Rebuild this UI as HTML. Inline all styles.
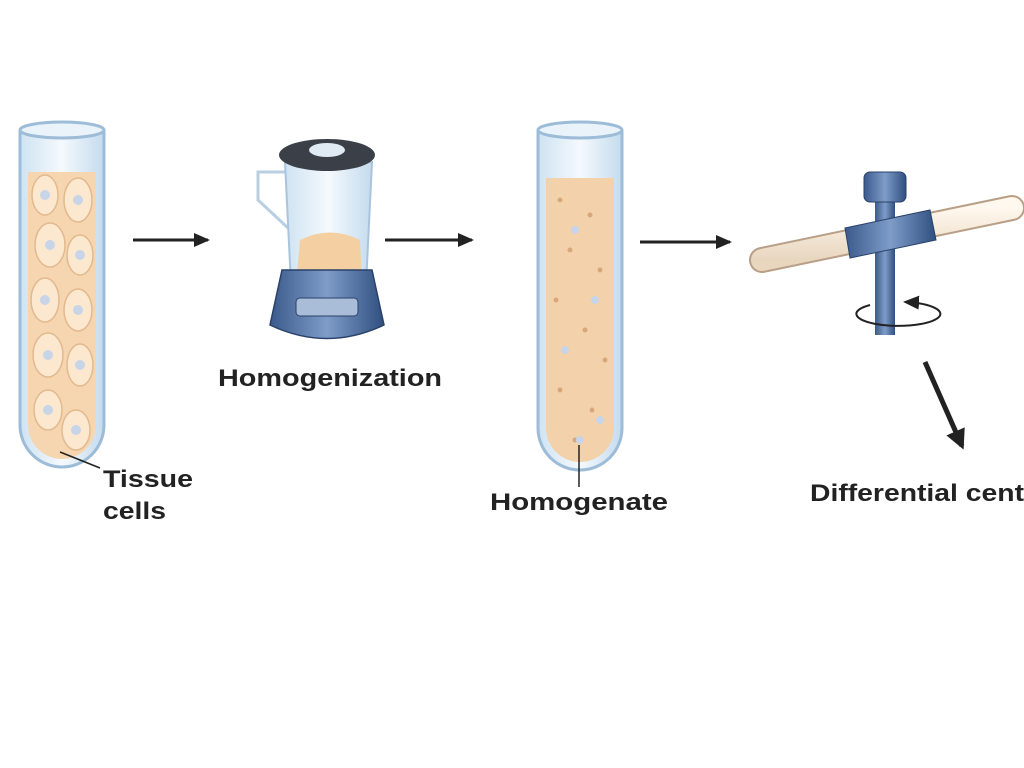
<!DOCTYPE html>
<html><head><meta charset="utf-8"><style>
html,body{margin:0;padding:0;background:#fff;width:1024px;height:768px;overflow:hidden}
svg{display:block}
text{font-family:"Liberation Sans",Arial,sans-serif;font-weight:bold;fill:#222}
</style></head><body>
<svg width="1024" height="768" viewBox="0 0 1024 768">
<defs>
<marker id="ah" markerWidth="16" markerHeight="14" refX="14" refY="7" orient="auto" markerUnits="userSpaceOnUse">
<path d="M0,0 L16,7 L0,14 Z" fill="#222"/></marker>
<marker id="ah2" markerWidth="20" markerHeight="20" refX="16" refY="10" orient="auto" markerUnits="userSpaceOnUse">
<path d="M0,0 L20,10 L0,20 Z" fill="#222"/></marker>
<linearGradient id="glass" x1="0" x2="1"><stop offset="0" stop-color="#cfe3f2"/><stop offset="0.5" stop-color="#f4f9fd"/><stop offset="1" stop-color="#c4dbee"/></linearGradient>
<linearGradient id="blue" x1="0" x2="1"><stop offset="0" stop-color="#3a5a8c"/><stop offset="0.5" stop-color="#7f9cc8"/><stop offset="1" stop-color="#2f4f80"/></linearGradient>
<linearGradient id="rod" x1="0" y1="0" x2="0" y2="1"><stop offset="0" stop-color="#fff8ee"/><stop offset="1" stop-color="#e8d6bf"/></linearGradient>
</defs>

<!-- Tube 1 -->
<path d="M20,130 L20,425 A42,42 0 0 0 104,425 L104,130" fill="url(#glass)" stroke="#9cbcd8" stroke-width="3"/>
<ellipse cx="62" cy="130" rx="42" ry="8" fill="#eaf3fa" stroke="#9cbcd8" stroke-width="3"/>
<path d="M28,172 L28,425 A34,34 0 0 0 96,425 L96,172 Z" fill="#f5d6b0"/>
<g fill="#fbe8cf" stroke="#e3b98d" stroke-width="1.5">
<ellipse cx="45" cy="195" rx="13" ry="20"/><ellipse cx="78" cy="200" rx="14" ry="22"/>
<ellipse cx="50" cy="245" rx="15" ry="22"/><ellipse cx="80" cy="255" rx="13" ry="20"/>
<ellipse cx="45" cy="300" rx="14" ry="22"/><ellipse cx="78" cy="310" rx="14" ry="21"/>
<ellipse cx="48" cy="355" rx="15" ry="22"/><ellipse cx="80" cy="365" rx="13" ry="21"/>
<ellipse cx="48" cy="410" rx="14" ry="20"/><ellipse cx="76" cy="430" rx="14" ry="20"/>
</g>
<g fill="#c8d4e8"><circle cx="45" cy="195" r="5"/><circle cx="78" cy="200" r="5"/><circle cx="50" cy="245" r="5"/><circle cx="80" cy="255" r="5"/><circle cx="45" cy="300" r="5"/><circle cx="78" cy="310" r="5"/><circle cx="48" cy="355" r="5"/><circle cx="80" cy="365" r="5"/><circle cx="48" cy="410" r="5"/><circle cx="76" cy="430" r="5"/></g>
<line x1="60" y1="452" x2="100" y2="468" stroke="#222" stroke-width="1.5"/>
<text x="103" y="487" font-size="24" textLength="90" lengthAdjust="spacingAndGlyphs">Tissue</text>
<text x="103" y="519" font-size="24" textLength="63" lengthAdjust="spacingAndGlyphs">cells</text>

<line x1="133" y1="240" x2="208" y2="240" stroke="#222" stroke-width="3" marker-end="url(#ah)"/>

<!-- Blender -->
<path d="M285,172 L258,172 L258,200 L288,228" fill="none" stroke="#b8cfe2" stroke-width="3"/>
<path d="M285,162 L372,162 L366,285 L291,285 Z" fill="url(#glass)" stroke="#a9c4dc" stroke-width="2"/>
<path d="M300,240 Q330,225 360,240 L362,285 L296,285 Z" fill="#f3cfa2"/>
<ellipse cx="327" cy="155" rx="48" ry="16" fill="#3b3f48"/>
<ellipse cx="327" cy="150" rx="18" ry="7" fill="#dfeaf3"/>
<path d="M282,270 L372,270 L384,325 Q327,352 270,325 Z" fill="url(#blue)" stroke="#2a416a" stroke-width="1.5"/>
<rect x="296" y="298" width="62" height="18" rx="4" fill="#a9bcd8" stroke="#2a416a"/>
<text x="218" y="386" font-size="24" textLength="224" lengthAdjust="spacingAndGlyphs">Homogenization</text>

<line x1="385" y1="240" x2="472" y2="240" stroke="#222" stroke-width="3" marker-end="url(#ah)"/>

<!-- Tube 2 -->
<path d="M538,130 L538,428 A42,42 0 0 0 622,428 L622,130" fill="url(#glass)" stroke="#9cbcd8" stroke-width="3"/>
<ellipse cx="580" cy="130" rx="42" ry="8" fill="#eaf3fa" stroke="#9cbcd8" stroke-width="3"/>
<path d="M546,178 L546,428 A34,34 0 0 0 614,428 L614,178 Z" fill="#f3d2ab"/>
<g fill="#d8a77a">
<circle cx="560" cy="200" r="2.5"/><circle cx="590" cy="215" r="2.5"/><circle cx="570" cy="250" r="2.5"/><circle cx="600" cy="270" r="2.5"/>
<circle cx="556" cy="300" r="2.5"/><circle cx="585" cy="330" r="2.5"/><circle cx="605" cy="360" r="2.5"/><circle cx="560" cy="390" r="2.5"/>
<circle cx="592" cy="410" r="2.5"/><circle cx="575" cy="440" r="2.5"/></g>
<g fill="#c8d4e8"><circle cx="575" cy="230" r="4"/><circle cx="595" cy="300" r="4"/><circle cx="565" cy="350" r="4"/><circle cx="600" cy="420" r="4"/><circle cx="580" cy="440" r="4"/></g>
<line x1="579" y1="445" x2="579" y2="487" stroke="#222" stroke-width="1.5"/>
<text x="490" y="510" font-size="24" textLength="178" lengthAdjust="spacingAndGlyphs">Homogenate</text>

<line x1="640" y1="242" x2="730" y2="242" stroke="#222" stroke-width="3" marker-end="url(#ah)"/>

<!-- Centrifuge -->
<line x1="762" y1="260" x2="1012" y2="208" stroke="#b89f86" stroke-width="26" stroke-linecap="round"/>
<line x1="762" y1="260" x2="1012" y2="208" stroke="url(#rod)" stroke-width="22" stroke-linecap="round"/>
<rect x="875" y="190" width="20" height="145" fill="url(#blue)"/>
<path d="M845,228 L930,210 L936,240 L850,258 Z" fill="url(#blue)" stroke="#2a416a"/>
<rect x="864" y="172" width="42" height="30" rx="6" fill="url(#blue)" stroke="#2a416a"/>
<path d="M870,305 A42,12 0 1 0 905,302" fill="none" stroke="#222" stroke-width="2" marker-end="url(#ah)"/>

<line x1="925" y1="362" x2="962" y2="446" stroke="#222" stroke-width="5" marker-end="url(#ah2)"/>
<text x="810" y="501" font-size="24" textLength="214" lengthAdjust="spacingAndGlyphs">Differential cent</text>
</svg>
</body></html>
